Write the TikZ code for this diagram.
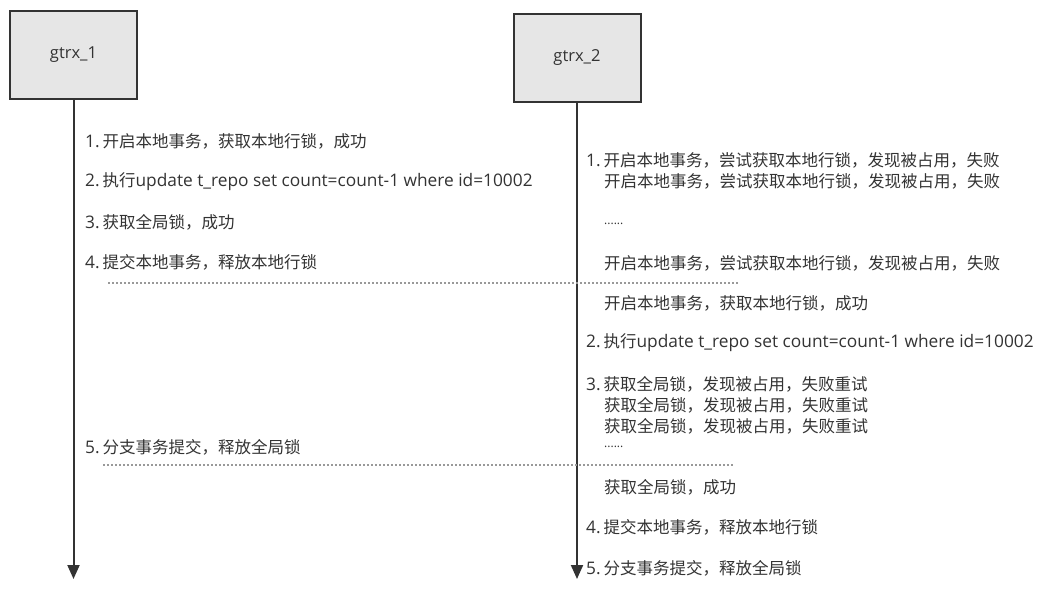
\documentclass[tikz,border=0pt]{standalone}
\usepackage{fontspec}
\setmainfont{Open Sans}
\newfontfamily\cjk{Noto Sans CJK SC}
\usetikzlibrary{arrows.meta}
\definecolor{ink}{HTML}{333333}
\definecolor{boxfill}{HTML}{E6E6E6}
\definecolor{dotc}{HTML}{999999}
\tikzset{
  actor/.style={draw=ink, line width=2pt, fill=boxfill, minimum width=127pt, minimum height=88pt, inner sep=0pt, font=\fontsize{16.5}{18}\selectfont, text=ink},
  life/.style={draw=ink, line width=2pt, -{Triangle[length=14pt,width=12pt]}},
  lbl/.style={anchor=west, inner sep=0pt, font=\fontsize{17.3}{18}\selectfont, text=ink},
  sep/.style={draw=dotc, line width=1.5pt, dash pattern=on 1.5pt off 2.5pt},
}
\newcommand{\zh}[1]{{\cjk\fontsize{16.5}{18}\selectfont #1}}
\begin{document}
\begin{tikzpicture}[x=1pt,y=-1pt]
\useasboundingbox (0,0) rectangle (1044,590);
\node[actor] (a1) at (73.5,55) {gtrx\_1};
\node[actor] (a2) at (577,57.5) {gtrx\_2};
\coordinate (e1) at (73.5,579);
\coordinate (e2) at (577,579);
\draw[life] (a1.south) -- (e1);
\draw[life] (a2.south) -- (e2);
% left texts
\node[lbl] (l1) at (85,141) {1.\,\zh{开启本地事务，获取本地行锁，成功}};
\node[lbl] (l2) at (85,182) {2.\,\zh{执行}update t\_repo set count=count-1 where id=10002};
\node[lbl] (l3) at (85,222) {3.\,\zh{获取全局锁，成功}};
\node[lbl] (l4) at (85,262) {4.\,\zh{提交本地事务，释放本地行锁}};
\node[lbl] (l5) at (85,447) {5.\,\zh{分支事务提交，释放全局锁}};
% separators
\coordinate (s1a) at (108,283); \coordinate (s1b) at (740,283);
\coordinate (s2a) at (103,465); \coordinate (s2b) at (735,465);
\draw[sep] (s1a) -- (s1b);
\draw[sep] (s2a) -- (s2b);
% right texts
\node[lbl] (r1) at (586,160) {1.\,\zh{开启本地事务，尝试获取本地行锁，发现被占用，失败}};
\node[lbl] (r1b) at (604,181) {\zh{开启本地事务，尝试获取本地行锁，发现被占用，失败}};
\node[lbl] (r1c) at (604,224) {\fontsize{12}{14}\selectfont ......};
\node[lbl] (r1d) at (604,263) {\zh{开启本地事务，尝试获取本地行锁，发现被占用，失败}};
\node[lbl] (r1e) at (604,303) {\zh{开启本地事务，获取本地行锁，成功}};
\node[lbl] (r2) at (586,343) {2.\,\zh{执行}update t\_repo set count=count-1 where id=10002};
\node[lbl] (r3) at (586,384) {3.\,\zh{获取全局锁，发现被占用，失败重试}};
\node[lbl] (r3b) at (604,405) {\zh{获取全局锁，发现被占用，失败重试}};
\node[lbl] (r3c) at (604,426) {\zh{获取全局锁，发现被占用，失败重试}};
\node[lbl] (r3d) at (604,447) {\fontsize{12}{14}\selectfont ......};
\node[lbl] (r3e) at (604,487) {\zh{获取全局锁，成功}};
\node[lbl] (r4) at (586,527) {4.\,\zh{提交本地事务，释放本地行锁}};
\node[lbl] (r5) at (586,568) {5.\,\zh{分支事务提交，释放全局锁}};
\end{tikzpicture}
\end{document}
